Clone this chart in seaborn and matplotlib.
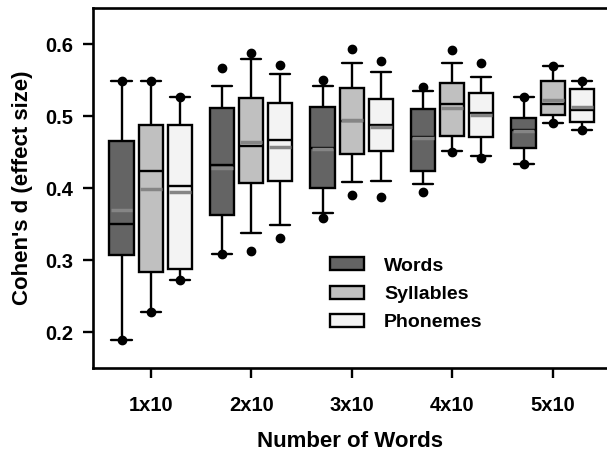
import numpy as np
import pandas as pd
import matplotlib
matplotlib.use("Agg")
import matplotlib.pyplot as plt
from matplotlib.patches import Patch
import seaborn as sns

# ---------------- data ----------------
groups = ["1x10", "2x10", "3x10", "4x10", "5x10"]
series = ["Words", "Syllables", "Phonemes"]

# 10th pct whisker, Q1, median, Q3, 90th pct whisker, mean, 5th/95th pct dots
words_lo     = [0.189, 0.308, 0.365, 0.406, 0.434]
words_q1     = [0.307, 0.363, 0.400, 0.424, 0.456]
words_med    = [0.350, 0.432, 0.455, 0.471, 0.480]
words_q3     = [0.465, 0.511, 0.512, 0.510, 0.497]
words_hi     = [0.549, 0.542, 0.541, 0.535, 0.527]
words_mean   = [0.370, 0.428, 0.454, 0.469, 0.479]
words_p5     = [0.189, 0.308, 0.359, 0.395, 0.434]
words_p95    = [0.549, 0.567, 0.550, 0.540, 0.527]

syl_lo       = [0.228, 0.338, 0.409, 0.452, 0.490]
syl_q1       = [0.284, 0.407, 0.447, 0.472, 0.501]
syl_med      = [0.424, 0.459, 0.493, 0.517, 0.516]
syl_q3       = [0.488, 0.525, 0.539, 0.546, 0.548]
syl_hi       = [0.548, 0.579, 0.574, 0.573, 0.569]
syl_mean     = [0.399, 0.4635, 0.495, 0.511, 0.522]
syl_p5       = [0.228, 0.312, 0.390, 0.450, 0.490]
syl_p95      = [0.548, 0.587, 0.593, 0.591, 0.569]

pho_lo       = [0.272, 0.348, 0.410, 0.444, 0.480]
pho_q1       = [0.287, 0.410, 0.452, 0.471, 0.492]
pho_med      = [0.403, 0.467, 0.488, 0.504, 0.509]
pho_q3       = [0.488, 0.518, 0.523, 0.532, 0.538]
pho_hi       = [0.526, 0.559, 0.561, 0.554, 0.549]
pho_mean     = [0.395, 0.457, 0.485, 0.502, 0.512]
pho_p5       = [0.272, 0.330, 0.387, 0.441, 0.480]
pho_p95      = [0.526, 0.571, 0.576, 0.574, 0.549]

fills = ["#646464", "#c0c0c0", "#f3f3f3"]
mean_color = "#858585"

summ = {
    "Words":     (words_lo, words_q1, words_med, words_q3, words_hi, words_mean, words_p5, words_p95),
    "Syllables": (syl_lo, syl_q1, syl_med, syl_q3, syl_hi, syl_mean, syl_p5, syl_p95),
    "Phonemes":  (pho_lo, pho_q1, pho_med, pho_q3, pho_hi, pho_mean, pho_p5, pho_p95),
}

# long table: five-number summary per box (percentiles of 5 points reproduce them exactly)
rows = []
for s in series:
    lo, q1, med, q3, hi = summ[s][:5]
    for gi, g in enumerate(groups):
        for v in (lo[gi], q1[gi], med[gi], q3[gi], hi[gi]):
            rows.append({"group": g, "series": s, "value": v})
df = pd.DataFrame(rows)

# ---------------- plot ----------------
sns.set_theme(style="white")
plt.rcParams["font.family"] = ["Liberation Sans", "DejaVu Sans"]
plt.rcParams["font.weight"] = "bold"
plt.rcParams["text.color"] = "black"
plt.rcParams["axes.labelcolor"] = "black"
plt.rcParams["xtick.color"] = "black"
plt.rcParams["ytick.color"] = "black"

fig = plt.figure(figsize=(6.07, 4.51), dpi=100)
W, H = 607, 451
ax = fig.add_axes([93 / W, (H - 368) / H, (607 - 93) / W, (368 - 8) / H])

width, gap = 0.87, 0.17
sns.boxplot(
    data=df, x="group", y="value", hue="series", order=groups, hue_order=series,
    palette=fills, saturation=1, width=width, gap=gap, whis=(0, 100),
    linecolor="black", linewidth=1.7, fliersize=0, ax=ax, legend=False,
    capwidths=0.2,
    medianprops=dict(color="black", linewidth=1.7),
)

n = len(series)
each = width / n
offsets = np.linspace(0, width - each, n)
offsets -= offsets.mean()
bw = each * (1 - gap)
for si, s in enumerate(series):
    mean, p5, p95 = summ[s][5], summ[s][6], summ[s][7]
    xs = np.arange(len(groups)) + offsets[si]
    ax.hlines(mean, xs - bw / 2 + 0.012, xs + bw / 2 - 0.012, color=mean_color, lw=2.5, zorder=5)
    ax.plot(xs, p5, "o", color="black", ms=6, zorder=6)
    ax.plot(xs, p95, "o", color="black", ms=6, zorder=6)

ax.set_ylim(0.15, 0.65)
ax.set_xlim(-0.574, 4.54)
ax.set_yticks([0.2, 0.3, 0.4, 0.5, 0.6])
ax.set_yticklabels(["0.2", "0.3", "0.4", "0.5", "0.6"])

for sp in ["left", "bottom", "top"]:
    ax.spines[sp].set_visible(True)
    ax.spines[sp].set_color("black")
    ax.spines[sp].set_linewidth(1.9)
ax.spines["right"].set_visible(False)

ax.tick_params(axis="both", which="major", direction="out", length=7, width=1.7,
               color="black", labelsize=14.5, labelcolor="black",
               bottom=True, left=True)
ax.tick_params(axis="y", pad=7)
ax.tick_params(axis="x", pad=13)
for lab in ax.get_xticklabels() + ax.get_yticklabels():
    lab.set_fontweight("bold")

ax.set_xlabel("Number of Words", fontsize=16, fontweight="bold", labelpad=12, color="black")
ax.set_ylabel("Cohen's d (effect size)", fontsize=16, fontweight="bold", labelpad=9, color="black")

handles = [Patch(facecolor=c, edgecolor="black", linewidth=1.7, label=s) for c, s in zip(fills, series)]
ax.legend(handles=handles, loc="upper left", bbox_to_anchor=(0.462, 0.307),
          frameon=False, handlelength=1.75, handleheight=0.65,
          handletextpad=1.0, labelspacing=0.56, borderpad=0, borderaxespad=0,
          prop={"weight": "bold", "size": 14})

fig.savefig("out.png", dpi=100)
